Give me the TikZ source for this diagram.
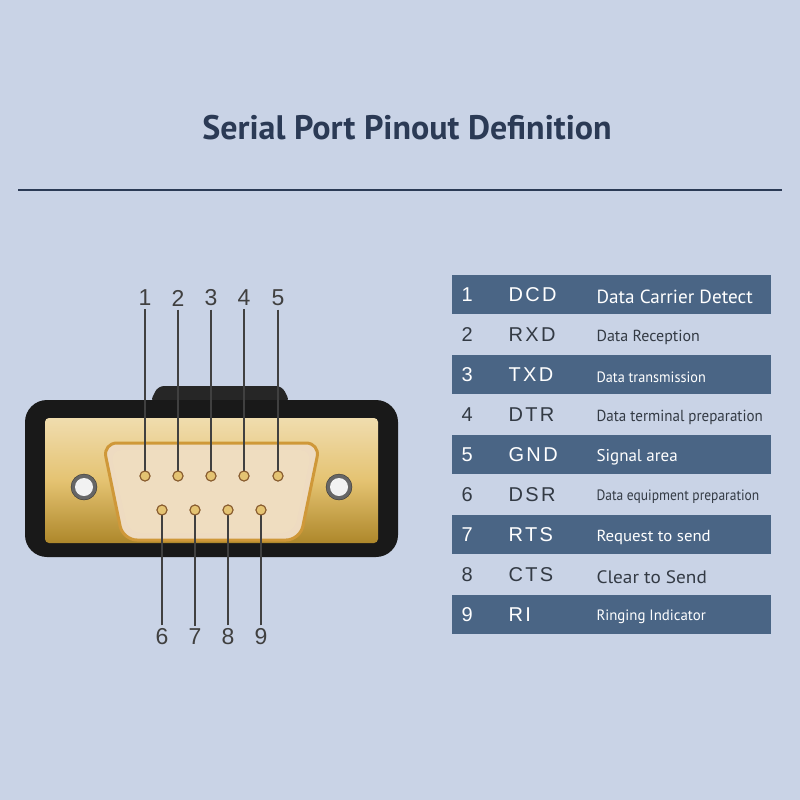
\documentclass[tikz,border=0pt]{standalone}
\usepackage{fontspec}
\setmainfont{Liberation Sans}
\newfontfamily\cond{PT Sans}
\begin{document}
\begin{tikzpicture}[x=1pt,y=-1pt,
  pinlab/.style={font=\fontsize{23}{23}\selectfont,text=black!75},
  lead/.style={draw=black!75,line width=1.6pt},
  pin/.style={circle,inner sep=0pt,minimum size=10pt,fill=gold!70!white,draw=brown!70!black,line width=1pt},
  num/.style={font=\fontsize{20}{20}\selectfont,anchor=west},
  abbr/.style={font=\fontsize{20}{20}\selectfont,anchor=west},
  desc/.style={anchor=west}]
\definecolor{bg}{HTML}{C9D3E6}
\definecolor{navy}{HTML}{2B3A55}
\definecolor{rowdark}{HTML}{4A6585}
\definecolor{gold}{HTML}{D9A935}
\definecolor{txt}{HTML}{333A44}
\fill[bg] (0,0) rectangle (800,800);
\useasboundingbox (0,0) rectangle (800,800);
\node[font=\cond\bfseries\fontsize{34}{34}\selectfont,text=navy] (title) at (407,128) {Serial Port Pinout Definition};
\draw[navy,line width=2.5pt] (18,190) -- (782,190);
% connector
\fill[black!85,rounded corners=6] (150,402) -- (158,386) -- (282,386) -- (290,402) -- cycle;
\fill[black!90,rounded corners=22] (25,400) rectangle (398,557);
\shade[top color=gold!40!white,bottom color=gold!80!black,middle color=gold!70!white,rounded corners=4] (45,418) rectangle (378,543);
\draw[gold!60!brown,line width=3pt,rounded corners=14,fill=gold!15!white!80!brown] (103,443) -- (320,443) -- (300,540) -- (123,540) -- cycle;
\fill[gold!20!white!85!brown,rounded corners=12] (110,450) -- (312,450) -- (294,533) -- (129,533) -- cycle;
\foreach \x/\n in {84/sl,339/sr}{
  \node[circle,minimum size=26pt,inner sep=0pt,fill=black!60,draw=black!80] (\n) at (\x,487) {};
  \node[circle,minimum size=18pt,inner sep=0pt,fill=white!90!gray] at (\x,487) {};}
% pins and labels
\foreach \i/\x in {1/145,2/178,3/211,4/244,5/278}{
  \node[pin] (p\i) at (\x,476) {};
  \node[pinlab] (l\i) at (\x,298) {\i};
  \draw[lead] (l\i.south) -- (p\i.center);
  \node[pin] at (\x,476) {};}
\foreach \i/\x in {6/162,7/195,8/228,9/261}{
  \node[pin] (p\i) at (\x,510) {};
  \node[pinlab] (l\i) at (\x,637) {\i};
  \draw[lead] (l\i.north) -- (p\i.center);
  \node[pin] at (\x,510) {};}
% table
\foreach \i/\ab/\ds/\fs/\sx in {1/DCD/Data Carrier Detect/19/1.01,2/RXD/Data Reception/16/1.0,3/TXD/Data transmission/15/0.95,4/DTR/Data terminal preparation/16/0.94,5/GND/Signal area/17/1.0,6/DSR/Data equipment preparation/15/0.9,7/RTS/Request to send/16/1.05,8/CTS/Clear to Send/18/1.07,9/RI/Ringing Indicator/15/0.99}{
  \pgfmathsetmacro{\yy}{275+40*(\i-1)}
  \pgfmathtruncatemacro{\odd}{mod(\i,2)}
  \ifnum\odd=1
    \fill[rowdark] (452,\yy) rectangle (771,\yy+39);
    \def\tc{white}
  \else
    \def\tc{txt}
  \fi
  \node[num,text=\tc] (n\i) at (458,\yy+20) {\i};
  \node[abbr,text=\tc] (a\i) at (505,\yy+20) {\addfontfeature{LetterSpace=12}\ab};
  \node[desc,text=\tc] (d\i) at (593,\yy+22) {\scalebox{\sx}[1]{\cond\fontsize{\fs}{\fs}\selectfont\ds}};
}
\end{tikzpicture}
\end{document}
